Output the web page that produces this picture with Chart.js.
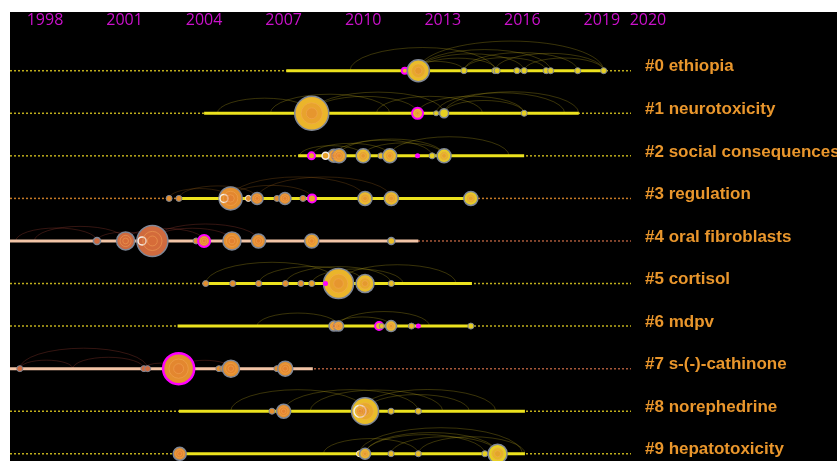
<!DOCTYPE html>
<html>
<head>
<meta charset="utf-8">
<script src="https://cdn.jsdelivr.net/npm/chart.js@4.4.1/dist/chart.umd.min.js"></script>
<style>
  html, body { margin: 0; padding: 0; background: #fff; width: 837px; height: 461px; overflow: hidden; }
  #wrap { position: absolute; left: 10px; top: 12px; width: 827px; height: 449px; background: #000; }
</style>
</head>
<body>
<div id="wrap"><canvas id="chart" width="827" height="449"></canvas></div>
<script>
// cluster labels, one timeline per cluster
const clusterLabels = ['#0 ethiopia', '#1 neurotoxicity', '#2 social consequences', '#3 regulation',
  '#4 oral fibroblasts', '#5 cortisol', '#6 mdpv', '#7 s-(-)-cathinone', '#8 norephedrine', '#9 hepatotoxicity'];
const yearTicks = [1998, 2001, 2004, 2007, 2010, 2013, 2016, 2019, 2020];
const yearMin = 1996.68, yearMax = 2020.1;

// active period of each cluster (solid part of the timeline)
const activeFrom = [2007.1, 2004.0, 2007.55, 2003.05, 1996.68, 2004.05, 2003.0, 1996.68, 2003.05, 2003.05];
const activeTo = [2019.07, 2018.13, 2016.07, 2014.06, 2012.08, 2014.1, 2014.05, 2008.1, 2016.1, 2016.1];

// nodes: [year, size, flag]  flag 1 = high centrality, 2 = burst
const nodes0 = [[2011.57, 3, 1], [2012.08, 11, 0], [2013.8, 3, 0], [2014.97, 3, 0], [2015.05, 3, 0], [2015.8, 3, 0],
  [2016.07, 3, 0], [2016.9, 3, 0], [2017.07, 3, 0], [2018.09, 3, 0], [2019.07, 3, 0]];
const nodes1 = [[2008.06, 17, 0], [2012.05, 5.5, 1], [2012.75, 2.5, 0], [2013.05, 4.5, 0], [2016.07, 3, 0]];
const nodes2 = [[2008.05, 3.5, 1], [2008.9, 6.5, 0], [2009.09, 7, 0], [2008.58, 3.5, 2], [2010.0, 7, 0], [2010.67, 3, 0],
  [2011.0, 7, 0], [2012.05, 1.5, 1], [2012.6, 3, 0], [2013.05, 7, 0]];
const nodes3 = [[2002.68, 3, 0], [2003.05, 3, 0], [2005.0, 11.5, 0], [2004.75, 4, 2], [2005.67, 3, 2], [2006.0, 6, 0],
  [2006.75, 3, 0], [2007.05, 6, 0], [2007.73, 3, 0], [2008.07, 4, 1], [2010.07, 7, 0], [2011.06, 7, 0], [2014.06, 7, 0]];
const nodes4 = [[1999.96, 3.5, 0], [2001.04, 9, 0], [2002.05, 15.5, 0], [2001.66, 4, 2], [2003.7, 3, 0], [2004.0, 6, 1],
  [2005.05, 9, 0], [2006.05, 7, 0], [2008.06, 7, 0], [2011.06, 3.5, 0]];
const nodes5 = [[2004.06, 3, 0], [2005.08, 3, 0], [2006.06, 3, 0], [2007.07, 3, 0], [2007.65, 3, 0], [2008.06, 3, 0],
  [2009.07, 15, 0], [2008.58, 1.5, 1], [2010.07, 9, 0], [2011.06, 3, 0]];
const nodes6 = [[2008.9, 5, 0], [2009.07, 5, 0], [2010.6, 4, 1], [2010.7, 2.5, 0], [2011.05, 5.5, 0], [2011.82, 3, 0],
  [2012.08, 1.5, 1], [2014.06, 3, 0]];
const nodes7 = [[1997.05, 3, 0], [2001.73, 3, 0], [2001.87, 3, 0], [2003.04, 15.5, 1], [2004.56, 3, 0], [2004.71, 3, 0],
  [2005.01, 8.5, 0], [2006.75, 3, 0], [2007.06, 7.5, 0]];
const nodes8 = [[2006.56, 3, 0], [2007.0, 7, 0], [2010.07, 13.5, 0], [2009.88, 6, 2], [2011.05, 3, 0], [2012.08, 3, 0]];
const nodes9 = [[2003.08, 6.5, 0], [2009.86, 3, 2], [2010.07, 5.5, 0], [2011.05, 3, 0], [2012.08, 3, 0], [2014.59, 3, 0],
  [2015.07, 9.5, 0]];

// co-citation links inside each cluster: [fromYear, toYear]
const links0 = [[2012.08, 2015.05], [2012.08, 2016.07], [2012.08, 2017.07], [2012.08, 2019.07], [2013.8, 2018.09],
  [2014.97, 2019.07], [2016.07, 2019.07], [2011.57, 2013.8], [2013.8, 2016.9], [2009.5, 2014.97]];
const links1 = [[2008.06, 2012.05], [2008.06, 2013.05], [2004.5, 2008.06], [2012.05, 2016.07], [2013.05, 2018.13],
  [2012.75, 2017.6], [2013.05, 2016.07], [2010.5, 2014.5], [2006.5, 2011.0]];
const links2 = [[2008.9, 2012.6], [2009.09, 2013.05], [2010.0, 2013.05], [2008.05, 2011.0], [2007.6, 2010.0], [2011.0, 2015.5]];
const links3 = [[2002.68, 2005.0], [2003.05, 2006.0], [2005.0, 2008.07], [2005.0, 2010.07], [2006.0, 2011.06]];
const links4 = [[1996.9, 1999.96], [1997.6, 2001.04], [1999.96, 2002.05], [2001.04, 2004.0], [2002.05, 2005.05], [2002.05, 2006.05]];
const links5 = [[2004.06, 2009.07], [2006.06, 2010.07], [2007.07, 2011.06], [2008.06, 2011.5], [2009.07, 2013.5]];
const links6 = [[2006.0, 2009.07], [2008.9, 2011.05], [2009.07, 2012.5]];
const links7 = [[1997.05, 1999.05], [1999.05, 2001.73], [1997.05, 2001.87], [2001.73, 2003.04], [2003.04, 2005.01]];
const links8 = [[2005.0, 2010.07], [2007.0, 2012.08], [2010.07, 2014.0], [2009.88, 2015.0], [2008.0, 2013.0]];
const links9 = [[2010.07, 2015.07], [2009.86, 2016.0], [2011.05, 2015.07], [2012.08, 2016.1], [2010.07, 2014.59], [2008.5, 2012.08]];

const allNodes = [nodes0, nodes1, nodes2, nodes3, nodes4, nodes5, nodes6, nodes7, nodes8, nodes9];
const allLinks = [links0, links1, links2, links3, links4, links5, links6, links7, links8, links9];

// styling per cluster tone
const rowTone = ['y', 'y', 'y', 'o', 'r', 'y', 'y', 'r', 'y', 'y'];
const dotColor = { y: '#bfae1c', o: '#c67a26', r: '#a8583a' };
const solidColor = { y: '#ece21e', o: '#ece21e', r: '#f2c4a6' };
const linkColor = { y: 'rgba(190,170,30,0.3)', o: 'rgba(170,105,30,0.28)', r: 'rgba(150,60,50,0.35)' };

function nodeFill(year, r) {
  if (year < 2002.5) return '#cf6a3e';
  if (year < 2007.8) return '#e48f2e';
  if (year < 2009.5) return r >= 12 ? '#ebb52a' : '#e9a22c';
  if (year < 2012.5) return '#e9bd28';
  return '#e6cf22';
}

const datasets = [];
clusterLabels.forEach((_, i) => {
  const tone = rowTone[i];
  datasets.push({
    type: 'line', order: 4,
    data: [{ x: yearMin, y: i }, { x: yearMax, y: i }],
    borderColor: dotColor[tone], borderWidth: 1.5, borderDash: [2, 2], pointRadius: 0
  });
  datasets.push({
    type: 'line', order: 3,
    data: [{ x: activeFrom[i], y: i }, { x: activeTo[i], y: i }],
    borderColor: solidColor[tone], borderWidth: 3, pointRadius: 0
  });
});

const nodePoints = [];
const ringPoints = [];
allNodes.forEach((list, i) => {
  list.forEach(([year, r, flag]) => {
    nodePoints.push({ x: year, y: i, r: r, f: flag });
    if (r >= 5) {
      ringPoints.push({ x: year, y: i, r: r * 0.62 });
      ringPoints.push({ x: year, y: i, r: r * 0.32 });
    }
  });
});

datasets.push({
  type: 'bubble', order: 1,
  data: nodePoints,
  backgroundColor: ctx => ctx.raw.f === 1 && ctx.raw.r < 2 ? '#ff00ff' : nodeFill(ctx.raw.x, ctx.raw.r),
  borderColor: ctx => ctx.raw.f === 1 ? '#ff00ff' : (ctx.raw.f === 2 ? '#f4efe8' : '#7f8797'),
  borderWidth: ctx => ctx.raw.f === 1 ? (ctx.raw.r > 8 ? 2.5 : 2) : (ctx.raw.r > 3 ? 1.5 : 1)
});
datasets.push({
  type: 'bubble', order: 0,
  data: ringPoints,
  backgroundColor: 'rgba(225,110,50,0.25)',
  borderColor: 'rgba(245,170,90,0.5)',
  borderWidth: 1
});

const linkPlugin = {
  id: 'links',
  beforeDatasetsDraw(chart) {
    const { ctx, scales: { x, y } } = chart;
    ctx.save();
    ctx.lineWidth = 1;
    allLinks.forEach((list, i) => {
      ctx.strokeStyle = linkColor[rowTone[i]];
      const py = y.getPixelForValue(i);
      list.forEach(([a, b]) => {
        const x1 = x.getPixelForValue(a), x2 = x.getPixelForValue(b);
        const rx = (x2 - x1) / 2;
        ctx.beginPath();
        ctx.ellipse(x1 + rx, py, rx, rx * 0.32, 0, Math.PI, 2 * Math.PI);
        ctx.stroke();
      });
    });
    ctx.restore();
  }
};

new Chart(document.getElementById('chart'), {
  type: 'bubble',
  data: { datasets },
  plugins: [linkPlugin],
  options: {
    responsive: false,
    animation: false,
    events: [],
    layout: { padding: 0, autoPadding: false },
    plugins: { legend: { display: false }, tooltip: { enabled: false } },
    scales: {
      x: {
        type: 'linear', position: 'top', min: yearMin, max: yearMax,
        grid: { display: false, drawTicks: false }, border: { display: false },
        afterBuildTicks: scale => {
          scale.ticks = yearTicks.map((v, k) => ({ value: k === yearTicks.length - 1 ? v + 0.74 : v }));
        },
        afterFit: scale => { scale.height = 20; },
        ticks: {
          autoSkip: false, maxRotation: 0, padding: 2, color: '#cc11cc',
          font: { family: 'Open Sans', size: 16 },
          callback: (v, k) => String(yearTicks[k])
        }
      },
      y: {
        type: 'linear', position: 'right', reverse: true, min: -0.91, max: 9.17,
        grid: { display: false, drawTicks: false }, border: { display: false },
        afterBuildTicks: scale => { scale.ticks = clusterLabels.map((_, k) => ({ value: k })); },
        afterFit: scale => {
          scale.width = 206;
          scale.paddingTop = 0;
          scale.paddingBottom = 0;
        },
        ticks: {
          autoSkip: false, padding: 14, labelOffset: -4, color: '#e9962c',
          font: { family: 'Liberation Sans', size: 17, weight: 'bold' },
          callback: (v, k) => clusterLabels[k]
        }
      }
    }
  }
});
</script>
</body>
</html>
